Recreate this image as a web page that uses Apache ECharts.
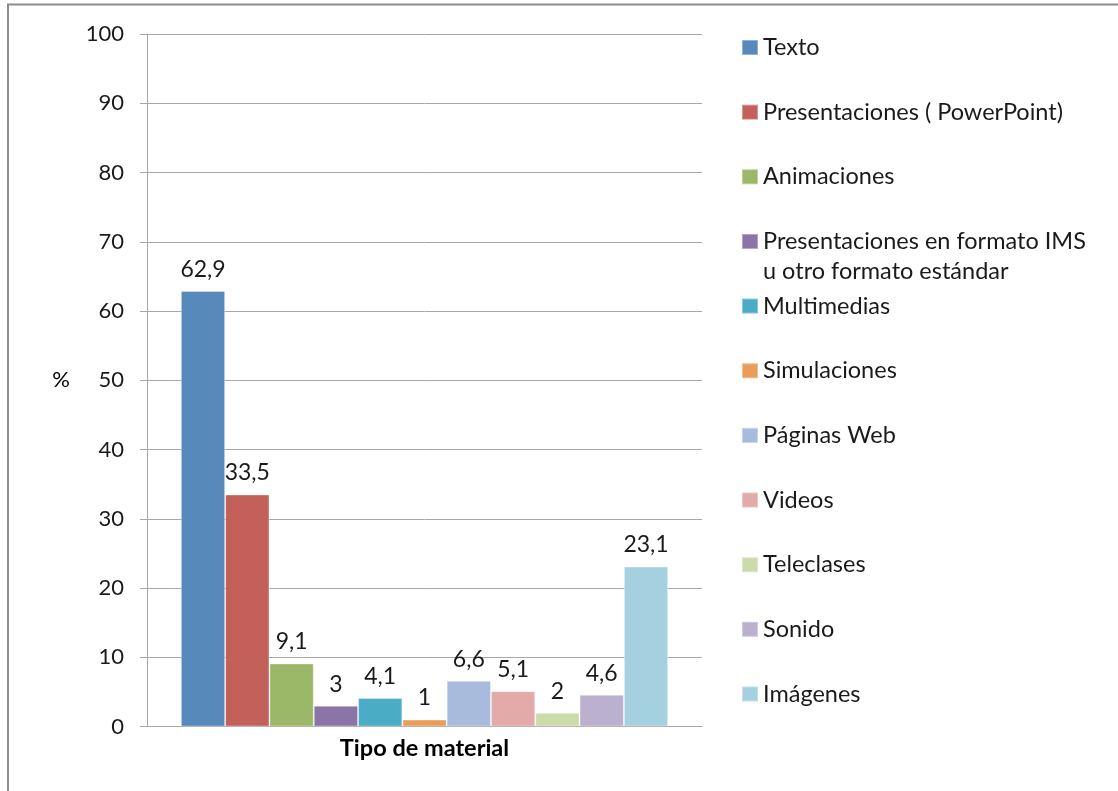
<!DOCTYPE html>
<html>
<head>
<meta charset="utf-8">
<script src="https://cdn.jsdelivr.net/npm/echarts@6/dist/echarts.min.js"></script>
<style>
html,body{margin:0;padding:0;background:#fff;}
#chart{width:1118px;height:791px;}
</style>
</head>
<body>
<div id="chart"></div>
<script>
// ---- data ----
const categories = ['Tipo de material'];
const seriesNames = [
  'Texto',
  'Presentaciones ( PowerPoint)',
  'Animaciones',
  'Presentaciones en formato IMS\nu otro formato estándar',
  'Multimedias',
  'Simulaciones',
  'Páginas Web',
  'Videos',
  'Teleclases',
  'Sonido',
  'Imágenes'
];
const seriesValues = [62.9, 33.5, 9.1, 3, 4.1, 1, 6.6, 5.1, 2, 4.6, 23.1];
const seriesColors = ['#5889BB', '#C3605A', '#9BB768', '#8B74A6', '#4BACC6', '#EA9D58',
                      '#A9BBDD', '#E2AAA8', '#CCDBAC', '#BBB0CE', '#A5D0E0'];
const yTicks = [0, 10, 20, 30, 40, 50, 60, 70, 80, 90, 100];

const FONT = 'Lato';
const chart = echarts.init(document.getElementById('chart'), null, {renderer: 'canvas'});

const series = seriesNames.map((name, i) => ({
  name: name,
  type: 'bar',
  data: [seriesValues[i]],
  barGap: '0%',
  barCategoryGap: '12.2%',
  itemStyle: {color: seriesColors[i], borderColor: 'rgba(255,255,255,0.35)', borderWidth: 1},
  label: {
    show: true,
    position: 'top',
    distance: 10,
    fontFamily: FONT,
    fontSize: 23,
    color: '#1a1a1a',
    formatter: p => String(p.value).replace('.', ',')
  },
  emphasis: {disabled: true}
}));

// one legend block per item, stacked at a constant step
const legends = seriesNames.map((name, i) => {
  const multi = name.indexOf('\n') >= 0;
  const lh = multi ? 30 : 26;
  const textH = multi ? 90 : 26;
  const center = 47.5 + i * 64.65;
  return {
    data: [name],
    orient: 'vertical',
    left: 741,
    top: center - textH / 2,
    padding: 0,
    itemWidth: 16,
    itemHeight: 15,
    icon: 'rect',
    selectedMode: false,
    formatter: n => (n.indexOf('\n') >= 0 ? '\n' + n : n),
    textStyle: {
      fontFamily: FONT,
      fontSize: 23.5,
      color: '#1a1a1a',
      lineHeight: lh
    }
  };
});

chart.setOption({
  animation: false,
  backgroundColor: '#fff',
  graphic: [{
    type: 'rect',
    shape: {x: 8, y: 4.5, width: 1200, height: 900},
    style: {fill: 'none', stroke: '#8C8C8C', lineWidth: 2},
    silent: true
  }],
  grid: {left: 147, right: 416, top: 34, bottom: 64.5, containLabel: false},
  legend: legends,
  xAxis: {
    type: 'category',
    data: categories,
    axisLine: {show: true, lineStyle: {color: '#A8A8A8', width: 1}},
    axisTick: {show: false},
    axisLabel: {
      fontFamily: FONT,
      fontSize: 23.5,
      fontWeight: 'bold',
      color: '#000',
      margin: 10
    }
  },
  yAxis: {
    type: 'value',
    min: yTicks[0],
    max: yTicks[yTicks.length - 1],
    interval: yTicks[1] - yTicks[0],
    name: '%',
    nameLocation: 'middle',
    nameRotate: 0,
    nameGap: 77,
    nameTextStyle: {fontFamily: FONT, fontSize: 22, color: '#000', padding: [5, 0, 0, 0]},
    axisLine: {show: true, lineStyle: {color: '#A8A8A8', width: 1}},
    axisTick: {show: true, inside: false, length: 7, lineStyle: {color: '#A8A8A8'}},
    splitLine: {show: true, lineStyle: {color: '#A8A8A8', width: 1}},
    axisLabel: {
      fontFamily: FONT,
      fontSize: 22,
      color: '#1a1a1a',
      margin: 23
    }
  },
  series: series
});
</script>
</body>
</html>
